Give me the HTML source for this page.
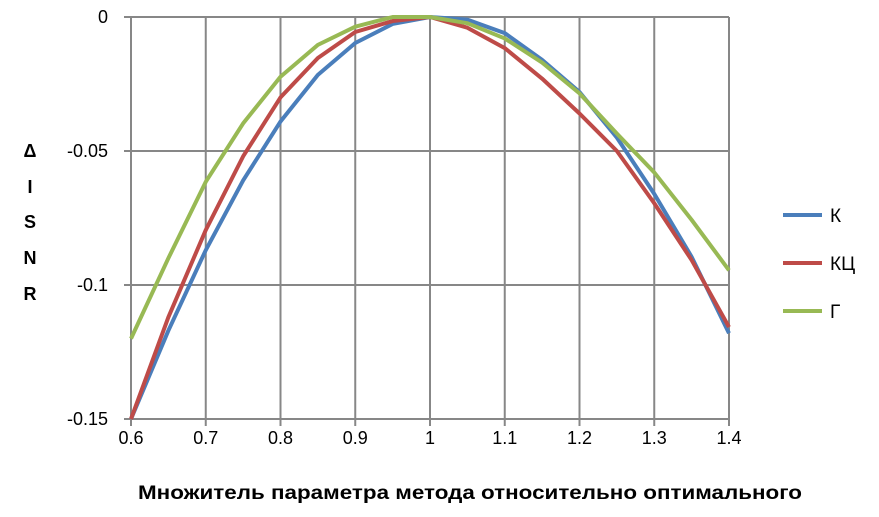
<!DOCTYPE html>
<html><head><meta charset="utf-8"><style>
body{margin:0;background:#fff;font-family:"Liberation Sans",sans-serif;}
</style></head><body>
<svg width="879" height="512" id="c" xmlns="http://www.w3.org/2000/svg" font-family="Liberation Sans, sans-serif">
<g id="grid"></g>
<g id="yt" font-size="18" text-anchor="end"></g>
<g id="xt" font-size="18" text-anchor="middle"></g>
<g id="lines"></g>
<g font-size="18" font-weight="bold" text-anchor="middle">
<text x="30" y="157">Δ</text><text x="30" y="193">I</text><text x="30" y="228">S</text><text x="30" y="264">N</text><text x="30" y="300">R</text>
</g>
<text x="138" y="499" font-size="19" font-weight="bold" textLength="664" lengthAdjust="spacingAndGlyphs">Множитель параметра метода относительно оптимального</text>
<g id="legend" font-size="19"></g>
</svg>
<script>
const xs=[0.6,0.65,0.7,0.75,0.8,0.85,0.9,0.95,1.0,1.05,1.1,1.15,1.2,1.25,1.3,1.35,1.4];
const seriesK=[-0.15,-0.117,-0.087,-0.061,-0.039,-0.0216,-0.0097,-0.0026,0,-0.001,-0.006,-0.016,-0.028,-0.045,-0.066,-0.0895,-0.118];
const seriesKC=[-0.15,-0.112,-0.0795,-0.052,-0.030,-0.0153,-0.0056,-0.0015,0,-0.004,-0.0116,-0.023,-0.036,-0.050,-0.0695,-0.0907,-0.1157];
const seriesG=[-0.12,-0.09,-0.0615,-0.0397,-0.0223,-0.0104,-0.0036,0,0,-0.0023,-0.008,-0.017,-0.0285,-0.0435,-0.058,-0.0757,-0.0945];
const names=["К","КЦ","Г"];
const colors=["#4a7ebb","#be4b48","#98b954"];
const yTicks=[0,-0.05,-0.1,-0.15];
const yLabels=["0","-0.05","-0.1","-0.15"];
const xTicks=[0.6,0.7,0.8,0.9,1,1.1,1.2,1.3,1.4];
const xLabels=["0.6","0.7","0.8","0.9","1","1.1","1.2","1.3","1.4"];
const NS="http://www.w3.org/2000/svg";
const X=v=>131+(v-0.6)/0.8*598, Y=v=>17+(-v)/0.15*402;
function mk(t,a,p){const e=document.createElementNS(NS,t);for(const k in a)e.setAttribute(k,a[k]);p.appendChild(e);return e;}
const g=document.getElementById('grid');
xTicks.forEach((v,i)=>{const l=mk('line',{x1:X(v),x2:X(v),y1:17,y2:426,stroke:'#878787','stroke-width':2},g);


const t=mk('text',{x:X(v),y:444},document.getElementById('xt'));t.textContent=xLabels[i];

});
yTicks.forEach((v,i)=>{const l=mk('line',{x1:124,x2:729,y1:Y(v),y2:Y(v),stroke:'#878787','stroke-width':2},g);


const t=mk('text',{x:108,y:Y(v)+6},document.getElementById('yt'));t.textContent=yLabels[i];

});
[seriesK,seriesKC,seriesG].forEach((s,i)=>{
const p=mk('polyline',{points:s.map((v,j)=>X(xs[j])+','+Y(v)).join(' '),fill:'none',stroke:colors[i],'stroke-width':4,'stroke-linejoin':'round'},document.getElementById('lines'));


const lg=document.getElementById('legend');
const ly=215+i*48;
const ll=mk('line',{x1:783,x2:822,y1:ly,y2:ly,stroke:colors[i],'stroke-width':4},lg);


const lt=mk('text',{x:830,y:ly+7},lg);lt.textContent=names[i];


});
</script>
</body></html>
